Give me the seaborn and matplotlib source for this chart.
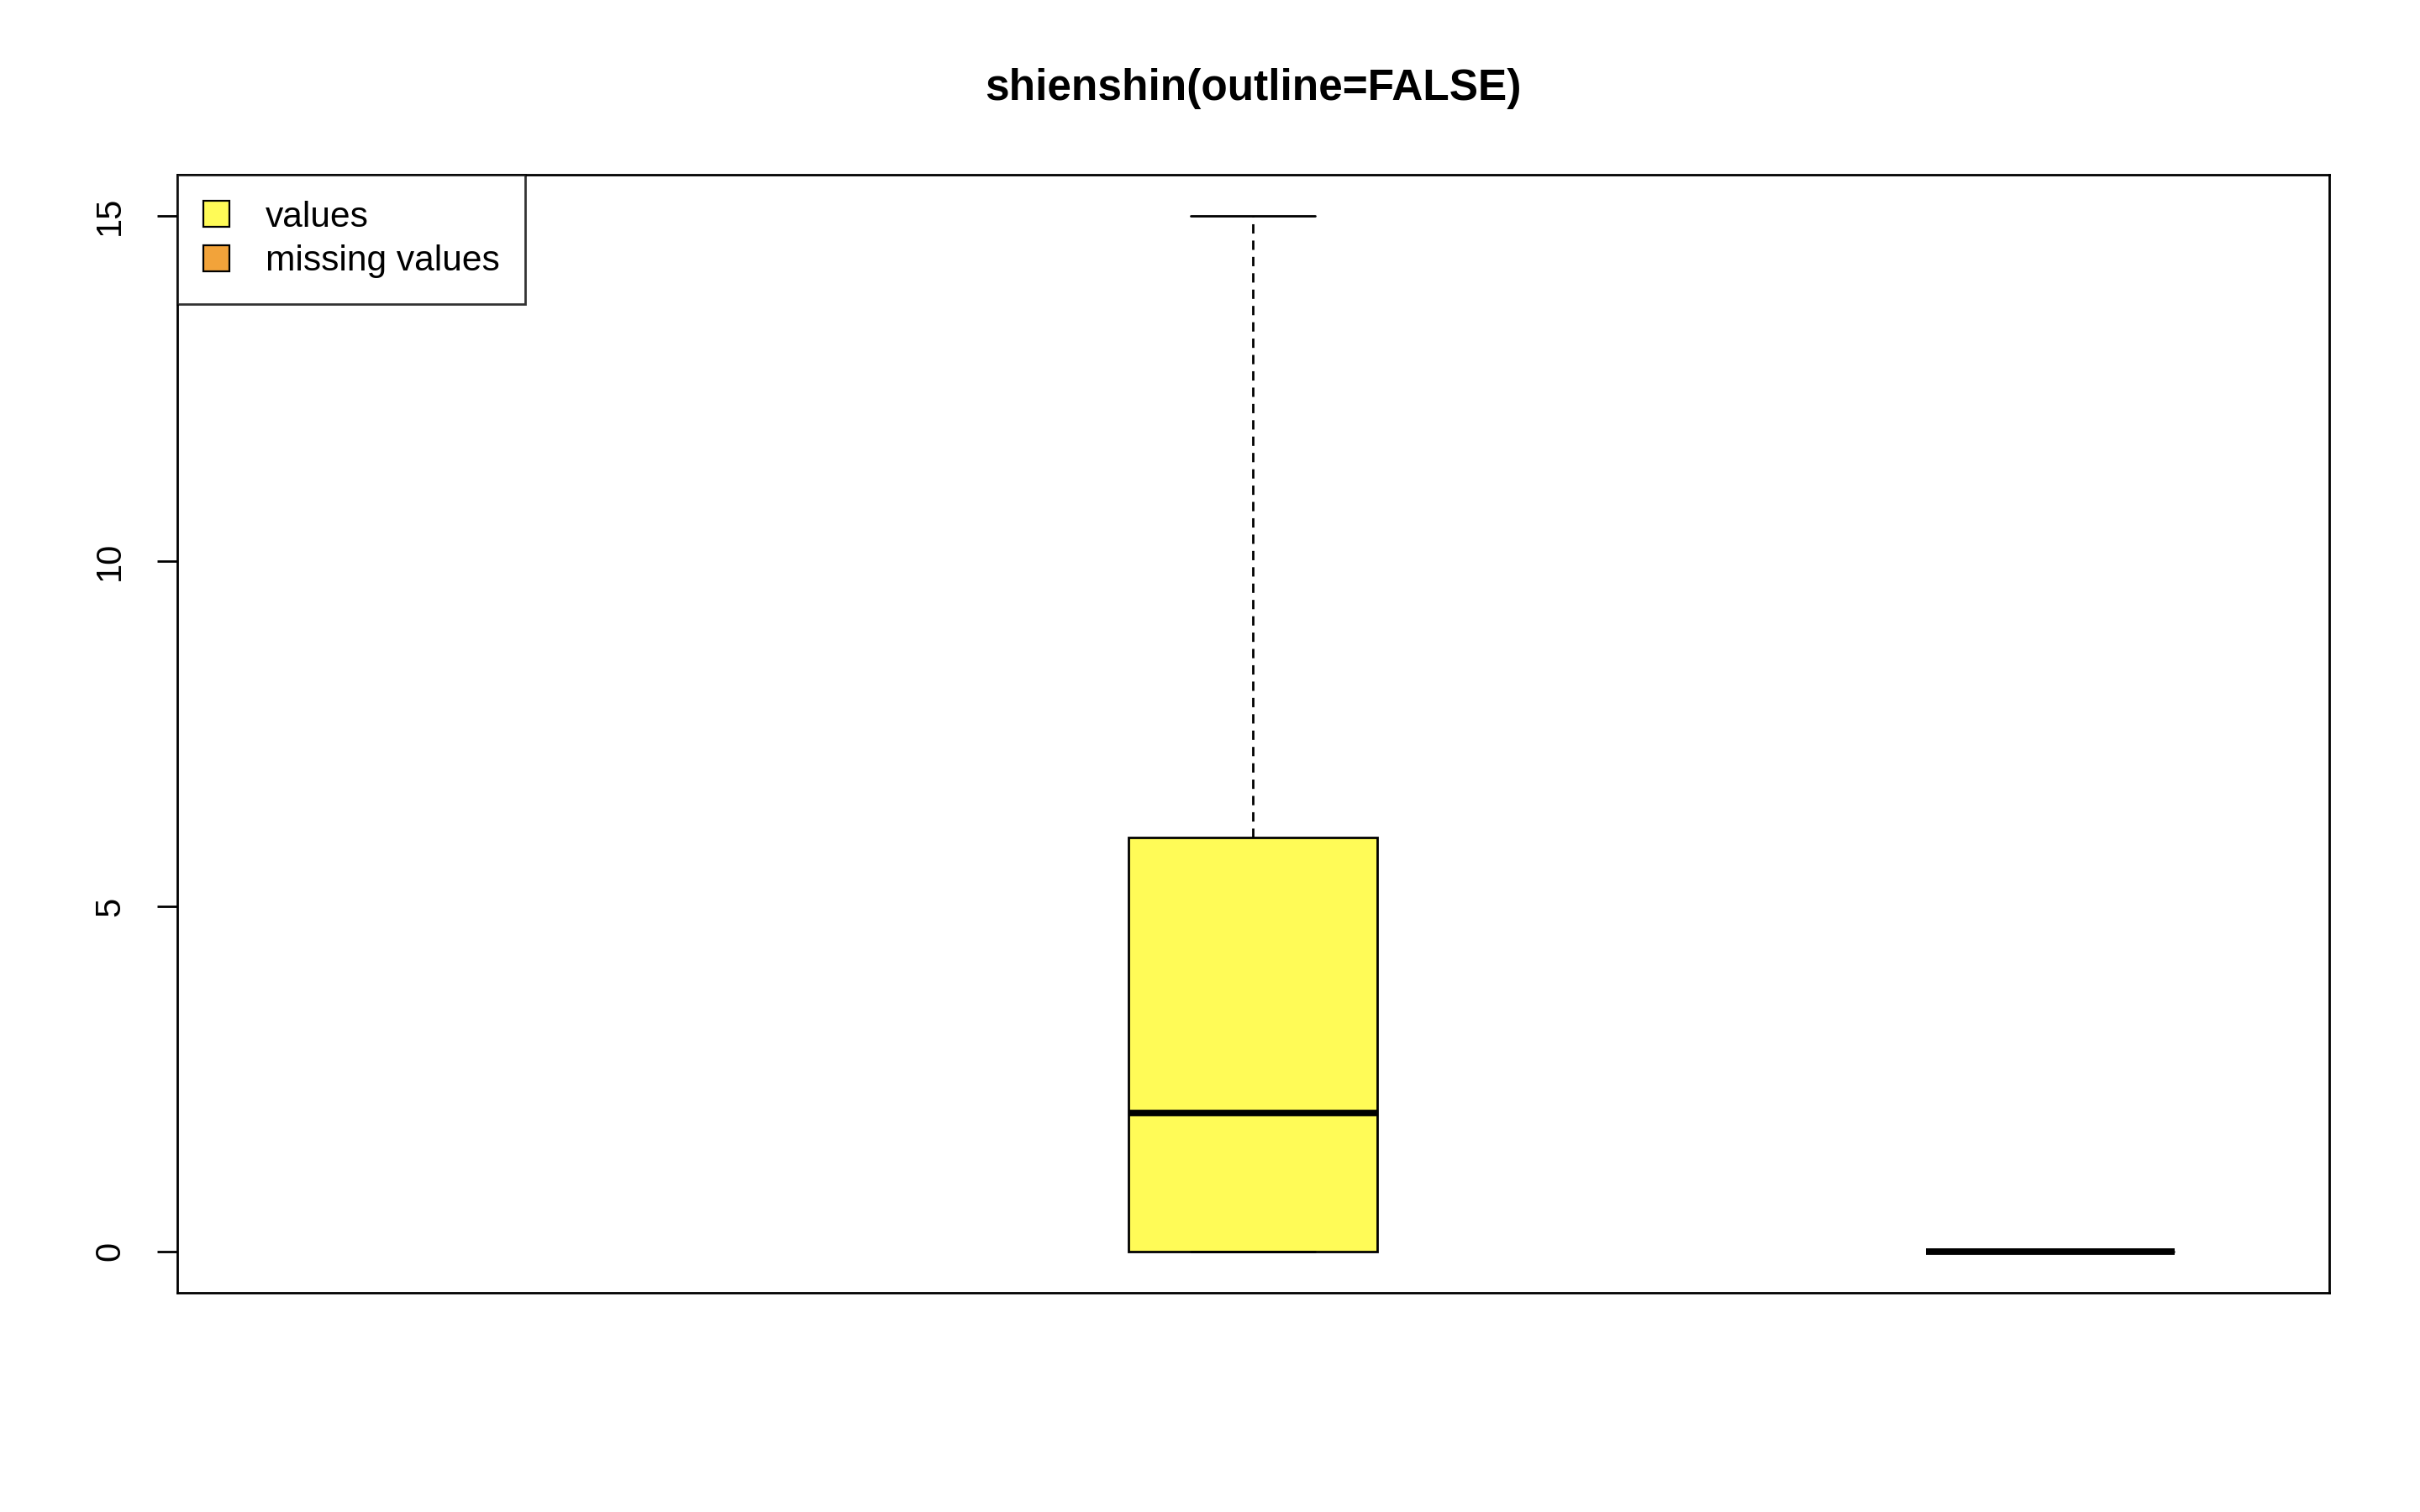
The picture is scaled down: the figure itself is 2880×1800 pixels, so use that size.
import pandas as pd
import matplotlib
matplotlib.use("Agg")
import matplotlib.pyplot as plt
import matplotlib.patches as mpatches
import seaborn as sns

# --- data (raw samples chosen so the box stats match the picture) ---
groups = ["values", "missing values"]
values_data = [0, 0, 0, 0, 1, 2, 2, 3, 6, 6, 6, 15]   # q1=0, median=2, q3=6, max=15
missing_data = [0, 0, 0, 0, 0, 0]                     # all zero -> flat box
colors = ["#FFFB57", "#F2A33A"]
y_ticks = [0, 5, 10, 15]
title = "shienshin(outline=FALSE)"

df = pd.DataFrame({
    "group": [groups[0]] * len(values_data) + [groups[1]] * len(missing_data),
    "value": values_data + missing_data,
})

# --- plot ---
sns.set_style("white")
plt.rcParams["font.family"] = ["Liberation Sans", "DejaVu Sans"]
plt.rcParams["text.color"] = "black"
plt.rcParams["ytick.color"] = "black"
plt.rcParams["ytick.labelcolor"] = "black"

fig = plt.figure(figsize=(14.4, 9), dpi=200)
ax = fig.add_axes([211 / 2880, 1 - 1539 / 1800, (2772 - 211) / 2880, (1539 - 208) / 1800])

sns.boxplot(
    data=df, x="group", y="value", hue="group", order=groups, hue_order=groups,
    palette=colors, saturation=1, width=0.312, whis=1.5, showfliers=False,
    linecolor="black", linewidth=1.0, legend=False, ax=ax,
    medianprops=dict(linewidth=2.8, color="black", solid_capstyle="butt"),
    whiskerprops=dict(linestyle=(0, (4, 3)), linewidth=1.0, color="black"),
    capprops=dict(linewidth=1.0, color="black"),
    boxprops=dict(edgecolor="black", linewidth=1.0),
)

ax.set_xlim(-1.349, 1.350)
ax.set_ylim(-0.6, 15.6)
ax.set_xticks([])
ax.set_xlabel("")
ax.set_ylabel("")
ax.set_yticks(y_ticks)
ax.set_yticklabels([str(t) for t in y_ticks], rotation=90, va="center", fontsize=15,
                   color="black")
ax.tick_params(axis="y", left=True, length=8.6, width=1.0, color="black", pad=13)
for s in ax.spines.values():
    s.set_visible(True)
    s.set_color("black")
    s.set_linewidth(1.0)

handles = [mpatches.Patch(facecolor=c, edgecolor="black", linewidth=0.8, label=g)
           for c, g in zip(colors, groups)]
leg = ax.legend(handles=handles, loc="upper left", bbox_to_anchor=(0, 1),
                borderaxespad=0, prop={"size": 15.3}, frameon=True, fancybox=False,
                handlelength=0.75, handleheight=0.75, handletextpad=1.0,
                borderpad=0.72, labelspacing=0.3)
leg.get_frame().set_edgecolor("black")
leg.get_frame().set_linewidth(1.0)
for t in leg.get_texts():
    t.set_color("black")

fig.text(0.5 * (211 + 2772) / 2880, 1 - 105 / 1800, title, ha="center", va="center",
         fontsize=18.5, fontweight="bold", color="black")

plt.savefig("out.png", dpi=200, facecolor="white")
